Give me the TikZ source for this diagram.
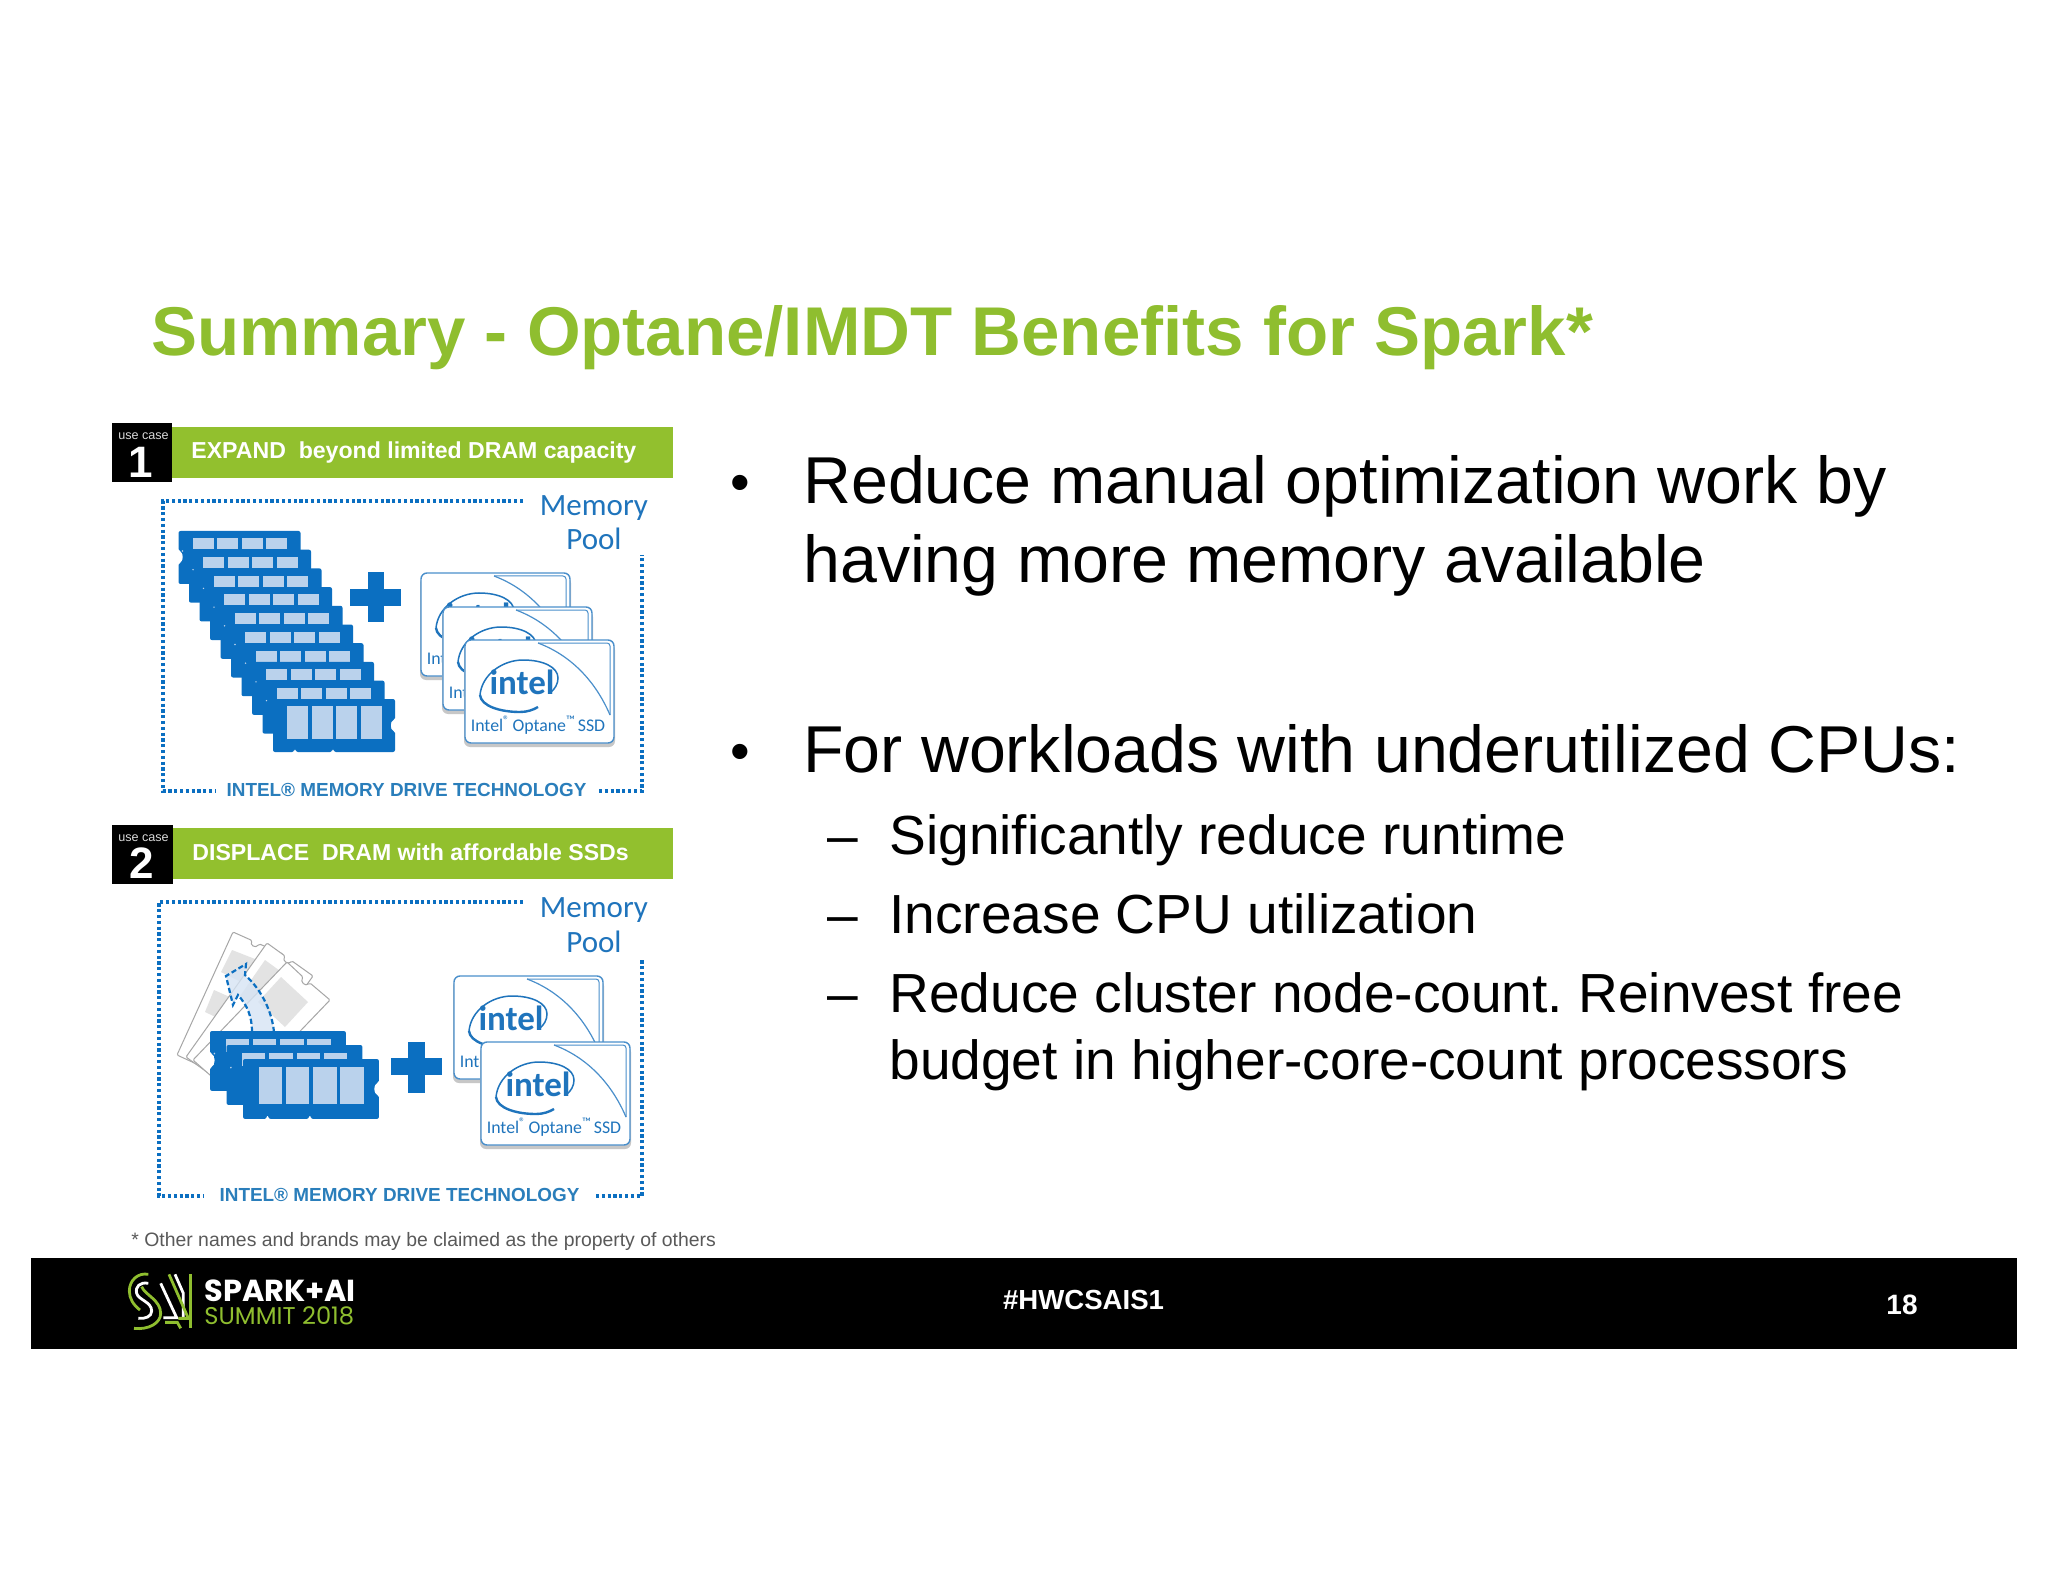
\documentclass[tikz,border=0pt]{standalone}
\usepackage{fontspec}
\setmainfont{Liberation Sans}
\newfontfamily\clearfont{Carlito}
\newfontfamily\popfont{Poppins}
\definecolor{sgreen}{HTML}{8FBE2F}
\definecolor{hgreen}{HTML}{92C02E}
\definecolor{iblue}{HTML}{0B6FC1}
\definecolor{chipblue}{HTML}{BAD2EC}
\definecolor{tblue}{HTML}{2A7EBB}
\definecolor{cardline}{HTML}{4A8FCB}
\definecolor{cardgrey}{HTML}{E3E3E3}
\definecolor{logoblue}{HTML}{1F74BC}
\definecolor{notegrey}{HTML}{595959}
\newcommand\fs[1]{\fontsize{#1}{#1}\selectfont}
\frenchspacing
\tikzset{
  x=0.5pt,y=-0.5pt,
  dotline/.style={draw=iblue,line width=1.7pt,dash pattern=on 1.6pt off 1.3pt},
  stickbody/.style={fill=iblue,rounded corners=1pt},
  chip/.style={fill=chipblue},
  bodytext/.style={anchor=base west,text=black,inner sep=0pt,font=\fs{33.14}},
  subtext/.style={anchor=base west,text=black,inner sep=0pt,font=\fs{27.55}},
  poolfont/.style={text=logoblue,inner sep=0pt,font=\clearfont\fs{15.5}},
  drivefont/.style={text=tblue,inner sep=0pt,font=\bfseries\fs{9.45}},
  headfont/.style={text=white,inner sep=0pt,anchor=west,font=\bfseries\fs{11.55}},
  usefont/.style={text=white!85!black,inner sep=0pt,font=\fs{6.3}},
  numfont/.style={text=white,inner sep=0pt,font=\bfseries\fs{22}},
  oldcard/.style={draw=black!35,fill=white,line width=.5pt,rounded corners=.6pt},
  logo/.style={line width=1.4pt,line cap=butt},
  stickshape/.pic={
    \fill[stickbody] (0,0) -- (122,0) -- (122,21) .. controls (117,22) and (117,31) .. (122,32)
      -- (122,53) -- (61,53) -- (61,50) -- (59,50) -- (59,53) -- (23,53) -- (23,50) -- (21,50) -- (21,53)
      -- (0,53) -- (0,32) .. controls (5,31) and (5,21) .. (0,20) -- cycle;
    \foreach \i in {0,1,2,3}{\fill[chip] (14+24.5*\i,7.3) rectangle ++(21,11);}
    \fill[chip] (4,20) circle[radius=.8];
  },
  stickfront/.pic={
    \fill[stickbody] (0,0) -- (122,0) -- (122,21) .. controls (117,22) and (117,31) .. (122,32)
      -- (122,53) -- (61,53) -- (61,50) -- (59,50) -- (59,53) -- (23,53) -- (23,50) -- (21,50) -- (21,53)
      -- (0,53) -- (0,32) .. controls (5,31) and (5,21) .. (0,20) -- cycle;
    \foreach \i in {0,1,2,3}{\fill[chip] (14+24.5*\i,7.3) rectangle ++(21,32.7);}
  },
  ssdcard/.pic={
    \fill[black!22,rounded corners=3pt] (-1,4) rectangle (150,107);
    \draw[cardline,line width=.7pt,fill=white,rounded corners=3pt] (0,0) rectangle (149,103);
    \draw[cardline,line width=.5pt,rounded corners=1.5pt] (73,3) -- (145,3) -- (145,75);
    \draw[cardline,line width=.6pt] (73,3) .. controls (105,15) and (130,40) .. (145,75);
    \draw[logoblue,line width=.75pt] (15,55) .. controls (17,34) and (38,20) .. (58,20)
       .. controls (78,20) and (93,27) .. (93,38) .. controls (93,44) and (90,49) .. (85,53);
    \draw[logoblue,line width=1.2pt] (15,55) .. controls (16,66) and (35,72) .. (55,72)
       .. controls (62,72) and (68,70) .. (73,67);
    \node[inner sep=0pt,text=logoblue,font=\clearfont\bfseries\fs{17.5}] at (57,42) {intel};
    \node[inner sep=0pt,text=logoblue,font=\clearfont\fs{8.9}] at (73,85) {Intel\textsuperscript{®}\kern-1pt\ Optane\textsuperscript{™}\kern-1pt\ SSD};
  },
}
\begin{document}
\begin{tikzpicture}
\useasboundingbox[fill=white] (0,0) rectangle (2048,1582);

% title
\node[anchor=base west,inner sep=0pt,text=sgreen,font=\bfseries\fs{34.5}] (title) at (151,356) {Summary - Optane/IMDT Benefits for Spark*};

% use case 1
\fill[hgreen] (172,427) rectangle (673,478);
\fill[black] (112,423) rectangle (172,482);
\node[usefont] (uc1) at (143.5,436) {use case};
\node[numfont] (n1) at (141,462) {1};
\node[headfont] (h1) at (191,453) {EXPAND\ \ beyond limited DRAM capacity};
\draw[dotline] (523,501) -- (163,501) -- (163,791) -- (215,791);
\draw[dotline] (599,791) -- (642,791) -- (642,555);
\node[poolfont] (m1) at (594,508) {Memory};
\node[poolfont] (p1) at (594,539) {Pool};
\node[drivefont] (d1) at (406.5,790) {INTEL® MEMORY DRIVE TECHNOLOGY};
\foreach \k in {0,...,8}{\pic at ({178.5+10.5*\k},{531+18.7*\k}) {stickshape};}
\pic at (273,699) {stickfront};
\fill[iblue] (350,589) rectangle (400.5,605.5);
\fill[iblue] (367.5,572.5) rectangle (383.5,621.5);
\pic at (421,573) {ssdcard};
\pic at (443,607) {ssdcard};
\pic at (465,640) {ssdcard};

% use case 2
\fill[hgreen] (173,828) rectangle (673,879);
\fill[black] (112,825) rectangle (173,884);
\node[usefont] (uc2) at (143.5,838) {use case};
\node[numfont] (n2) at (142,863) {2};
\node[headfont] (h2) at (192,852) {DISPLACE\ \ DRAM with affordable SSDs};
\draw[dotline] (523,902) -- (159,902) -- (159,1196) -- (203,1196);
\draw[dotline] (596,1196) -- (642,1196) -- (642,958);
\node[poolfont] (m2) at (594,910) {Memory};
\node[poolfont] (p2) at (594,942) {Pool};
\node[drivefont] (d2) at (399.5,1195) {INTEL® MEMORY DRIVE TECHNOLOGY};

% slanted modules
\draw[oldcard] (233,932) -- (252,940.5) .. controls (250,945) and (255,949) .. (259.5,944) -- (283,954) -- (227,1078) -- (177,1055) -- cycle;
\fill[cardgrey] (232,950) -- (255,959) -- (243,983) -- (221,972) -- cycle;
\fill[cardgrey] (214,990) -- (232,998) -- (222,1020) -- (205,1012) -- cycle;
\draw[oldcard] (267,943) -- (285,956) .. controls (282,961) and (288,965) .. (292,961) -- (313,976) -- (232,1090) -- (186,1057) -- cycle;
\fill[cardgrey] (265,960) -- (287,976) -- (262,1012) -- (240,996) -- cycle;
\draw[oldcard] (287,962) -- (303,977) .. controls (300,982) and (305,987) .. (310,983) -- (330,1000) -- (236,1098) -- (193,1060) -- cycle;
\fill[cardgrey] (281,977) -- (308,1002) -- (285,1027) -- (258,1002) -- cycle;
% dashed arrow
\draw[iblue,fill=chipblue!60,fill opacity=.8,line width=1.1pt,dash pattern=on 2.6pt off 1.4pt]
  (274,1032) .. controls (272,1012) and (262,990) .. (245,975) -- (246,964) -- (226,976) -- (233,1005) -- (238,995) .. controls (247,1005) and (252,1016) .. (252,1032);
% modules
\pic[xscale=1.114,yscale=1.13] at (210,1031) {stickshape};
\pic[xscale=1.114,yscale=1.13] at (226.5,1045) {stickshape};
\pic[xscale=1.114,yscale=1.13] at (243,1059) {stickfront};
\fill[iblue] (391,1058) rectangle (442,1075);
\fill[iblue] (408,1042) rectangle (424.5,1093);
\pic at (454,976) {ssdcard};
\pic at (481,1042) {ssdcard};

% bullets
\node[anchor=base,inner sep=0pt,font=\fs{28}] (b1) at (740,502) {•};
\node[bodytext] (t1) at (803,504) {Reduce manual optimization work by};
\node[bodytext] (t2) at (803,582) {having more memory available};
\node[anchor=base,inner sep=0pt,font=\fs{28}] (b2) at (740,770) {•};
\node[bodytext] (t3) at (803,772) {For workloads with underutilized CPUs:};
\node[subtext] (s1d) at (827,854) {–};
\node[subtext] (s1) at (889,854) {Significantly reduce runtime};
\node[subtext] (s2d) at (827,933) {–};
\node[subtext] (s2) at (889,933) {Increase CPU utilization};
\node[subtext] (s3d) at (827,1012) {–};
\node[subtext] (s3) at (889,1012) {Reduce cluster node-count. Reinvest free};
\node[subtext] (s4) at (889,1079) {budget in higher-core-count processors};

% footer
\node[anchor=base west,inner sep=0pt,text=notegrey,font=\fs{9.7}] (note) at (131,1246) {* Other names and brands may be claimed as the property of others};
\fill[black] (31,1258) rectangle (2017,1349);
\node[inner sep=0pt,text=white,font=\bfseries\fs{13.8}] (tag) at (1083.5,1300) {\#HWCSAIS1};
\node[inner sep=0pt,text=white,font=\bfseries\fs{14}] (num) at (1902,1305) {18};
\node[anchor=west,inner sep=0pt,text=white,font=\popfont\bfseries\fs{15.2}] (sp) at (204,1291) {SPARK+AI};
\node[anchor=west,inner sep=0pt,text=sgreen,font=\popfont\fs{12.1}] (su) at (204,1316) {SUMMIT 2018};
\begin{scope}[shift={(120,1265)},x=.1667pt,y=-.1667pt]
  \draw[sgreen,logo] (85,28) .. controls (55,22) and (28,45) .. (28,78) .. controls (28,100) and (40,120) .. (60,135);
  \draw[white,logo] (85,55) .. controls (60,50) and (45,65) .. (50,85) .. controls (55,105) and (95,110) .. (95,138) .. controls (95,155) and (75,162) .. (55,160);
  \draw[sgreen,logo] (65,65) .. controls (75,90) and (122,105) .. (122,145) .. controls (122,175) and (85,195) .. (42,190);
  \draw[white,logo] (122,55) -- (170,158) -- (130,158);
  \draw[white,logo] (165,28) -- (190,85) -- (190,158);
  \draw[sgreen,logo] (147,28) -- (205,160) -- (175,160);
  \draw[sgreen,logo] (212,28) -- (212,190);
  \draw[sgreen,logo] (135,172) -- (172,172) -- (182,190);
\end{scope}
\end{tikzpicture}
\end{document}
